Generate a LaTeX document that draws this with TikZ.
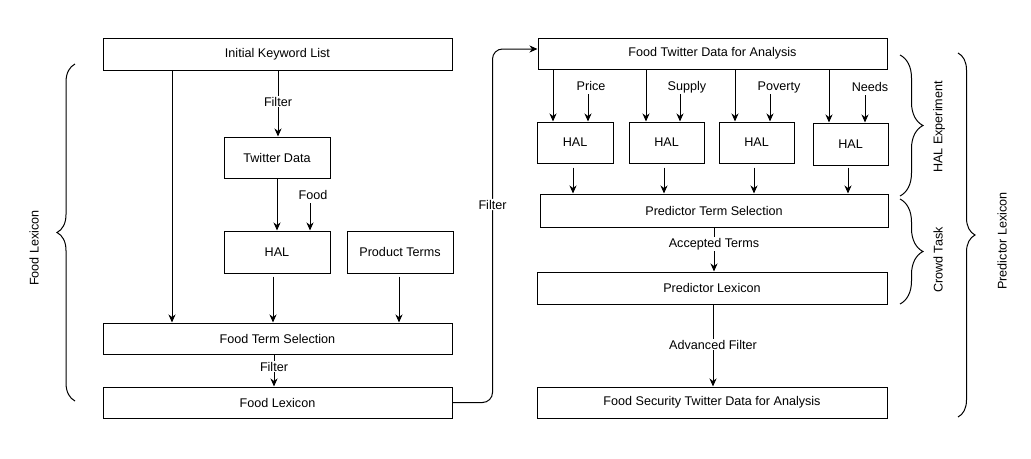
\documentclass[tikz,border=0pt]{standalone}
\usepackage{fontspec}
\setmainfont{Liberation Sans}
\usetikzlibrary{arrows.meta,decorations.pathreplacing,calc}
\begin{document}
\begin{tikzpicture}[x=1pt,y=-1pt,
  every node/.style={font=\fontsize{12.6}{15}\selectfont},
  box/.style={draw, line width=1pt, inner sep=0pt},
  arr/.style={-{Stealth[length=8pt,width=7pt,inset=2.5pt]}, line width=1pt},
  lbl/.style={fill=white, inner sep=1pt},
  kw/.style={inner sep=1pt, text height=9pt, text depth=2.7pt},
  brc/.style={decorate, decoration={brace, amplitude=#1}, line width=1pt}
]
\useasboundingbox (0,0) rectangle (1031,458);
\fill[white] (0,0) rectangle (1031,458);

% left column
\node[box, minimum width=349pt, minimum height=32pt] (ikl) at (277.5,54) {Initial Keyword List};
\node[box, minimum width=106pt, minimum height=41pt] (twd) at (277,157.5) {Twitter Data};
\node[box, minimum width=106pt, minimum height=42pt] (hal0) at (277,252) {HAL};
\node[box, minimum width=106pt, minimum height=42pt] (prod) at (400,252) {Product Terms};
\node[box, minimum width=349pt, minimum height=31pt] (fts) at (277.5,338.5) {Food Term Selection};
\node[box, minimum width=349pt, minimum height=31pt] (flex) at (277.5,402.5) {Food Lexicon};

\draw[arr] ([xshift=-105.5pt]ikl.south) -- ([xshift=-105.5pt]fts.north);
\draw[arr] ([xshift=0.5pt]ikl.south) -- node[lbl,pos=0.47]{Filter} ([xshift=1pt]twd.north);
\draw[arr] (twd.south) -- (hal0.north);
\node[kw] (food) at (313,196) {Food};
\draw[arr] ([xshift=-3pt]food.south) -- ([xshift=33pt]hal0.north);
\draw[arr] ([xshift=-4pt,yshift=-3pt]hal0.south) -- ([xshift=-4.5pt]fts.north);
\draw[arr] ([xshift=-1pt,yshift=-3pt]prod.south) -- ([xshift=121.5pt]fts.north);
\draw[arr] ([xshift=-3.5pt]fts.south) -- node[lbl,pos=0.38]{Filter} ([xshift=-3.5pt]flex.north);

% right column
\node[box, minimum width=349pt, minimum height=31pt] (ftd) at (712.5,53.5) {Food Twitter Data for Analysis};
\node[box, minimum width=76pt, minimum height=41pt] (hal1) at (575,142.5) {HAL};
\node[box, minimum width=75pt, minimum height=41pt] (hal2) at (666.5,142.5) {HAL};
\node[box, minimum width=75pt, minimum height=41pt] (hal3) at (756.5,142.5) {HAL};
\node[box, minimum width=75pt, minimum height=42pt] (hal4) at (850.5,144) {HAL};
\node[box, minimum width=348pt, minimum height=33pt] (pts) at (714,210.5) {Predictor Term Selection};
\node[box, minimum width=350pt, minimum height=32pt] (plex) at (712,288) {Predictor Lexicon};
\node[box, minimum width=350pt, minimum height=31pt] (fsec) at (712,402.5) {Food Security Twitter Data for Analysis};

\draw[arr, rounded corners=10pt] (flex.east) -- ++(40,0) |- node[lbl,pos=0.28]{Filter} ([yshift=4.5pt]ftd.west);

\draw[arr] ([xshift=-159.5pt]ftd.south) -- ([xshift=-22pt]hal1.north);
\draw[arr] ([xshift=-66.5pt]ftd.south) -- ([xshift=-20.5pt]hal2.north);
\draw[arr] ([xshift=22.5pt]ftd.south) -- ([xshift=-21.5pt]hal3.north);
\draw[arr] ([xshift=116.5pt]ftd.south) -- ([xshift=-21.5pt]hal4.north);

\node[kw] (price) at (591,87) {Price};
\node[kw] (supply) at (687,87) {Supply};
\node[kw] (poverty) at (779,87) {Poverty};
\node[kw] (needs) at (870,88) {Needs};
\draw[arr] ([xshift=-3pt]price.south) -- ([xshift=13pt]hal1.north);
\draw[arr] ([xshift=-7pt]supply.south) -- ([xshift=13.5pt]hal2.north);
\draw[arr] ([xshift=-9pt]poverty.south) -- ([xshift=13.5pt]hal3.north);
\draw[arr] ([xshift=-5pt]needs.south) -- ([xshift=14.5pt]hal4.north);

\draw[arr] ([xshift=-2pt,yshift=-4pt]hal1.south) -- ([xshift=-141pt]pts.north);
\draw[arr] ([xshift=-2.5pt,yshift=-4pt]hal2.south) -- ([xshift=-50pt]pts.north);
\draw[arr] ([xshift=-2.5pt,yshift=-4pt]hal3.south) -- ([xshift=40pt]pts.north);
\draw[arr] ([xshift=-2.5pt,yshift=-2pt]hal4.south) -- ([xshift=134pt]pts.north);

\draw[arr] (pts.south) -- node[lbl,pos=0.38]{Accepted Terms} ([xshift=2pt]plex.north);
\draw[arr] ([xshift=1pt]plex.south) -- node[lbl,pos=0.49]{Advanced Filter} ([xshift=1pt]fsec.north);

% braces
\draw[brc=18pt] (75,401) -- (75,64);
\draw[brc=23pt] (900,55) -- (900,196);
\draw[brc=23pt] (900,199) -- (900,304);
\draw[brc=17pt] (958,53) -- (958,417);

\node[rotate=90] (lfood) at (34,248) {Food Lexicon};
\node[rotate=90] (lhal) at (939,127) {HAL Experiment};
\node[rotate=90] (lcrowd) at (938,260) {Crowd Task};
\node[rotate=90] (lpred) at (1002,241) {Predictor Lexicon};
\end{tikzpicture}
\end{document}
